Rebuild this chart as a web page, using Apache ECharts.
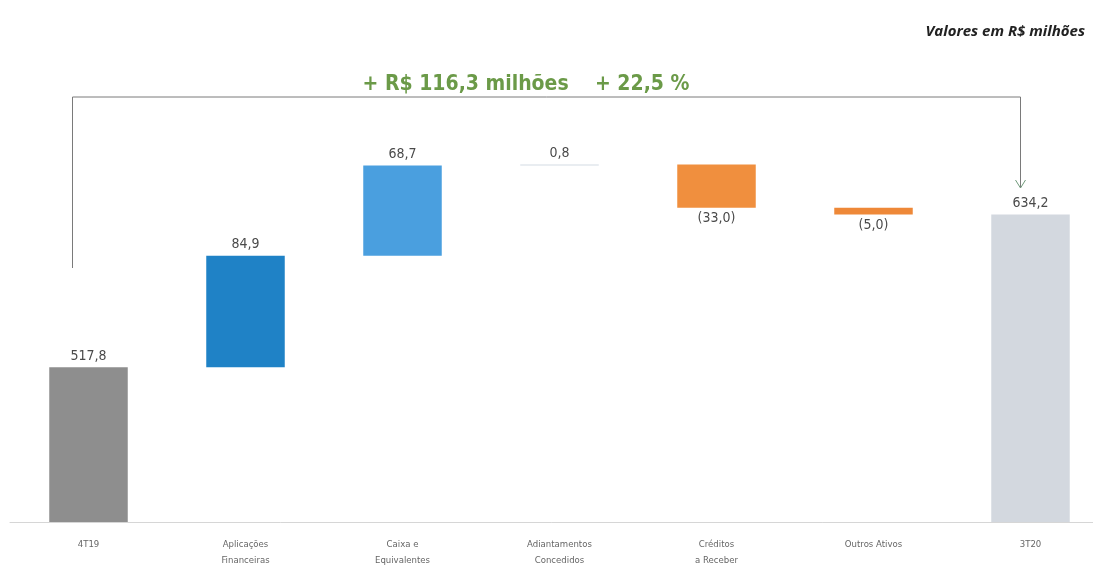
<!DOCTYPE html>
<html>
<head>
<meta charset="utf-8">
<script src="https://cdn.jsdelivr.net/npm/echarts@6/dist/echarts.min.js"></script>
<style>
    html, body { margin: 0; padding: 0; background: #fff; }
    #chart { width: 1093px; height: 566px; }
</style>
</head>
<body>
<div id="chart"></div>
<script>
// categorias e variações (R$ milhões)
const categories = ['4T19', 'Aplicações\nFinanceiras', 'Caixa e\nEquivalentes', 'Adiantamentos\nConcedidos', 'Créditos\na Receber', 'Outros Ativos', '3T20'];
const changes = [517.8, 84.9, 68.7, 0.8, -33.0, -5.0, 634.2];
const isTotal = [true, false, false, false, false, false, true];
const barColors = ['#8e8e8e', '#1f82c6', '#4a9fdf', '#d3dbe4', '#f08f3e', '#ee8838', '#d3d8df'];
const headline = '+ R$ 116,3 milhões    + 22,5 %';

// monta base invisível + altura visível
function buildWaterfall() {
    const base = [];
    const height = [];
    let running = 0;
    changes.forEach((v, i) => {
        if (isTotal[i]) {
            base.push(0);
            height.push(v);
            running = v;
        } else if (v >= 0) {
            base.push(running);
            height.push(v);
            running += v;
        } else {
            running += v;
            base.push(running);
            height.push(-v);
        }
    });
    return { base, height };
}

function formatLabel(v) {
    const s = Math.abs(v).toFixed(1).replace('.', ',');
    return v < 0 ? '(' + s + ')' : s;
}

const wf = buildWaterfall();
const chart = echarts.init(document.getElementById('chart'));

const option = {
    animation: false,
    backgroundColor: '#fff',
    textStyle: { fontFamily: "'DejaVu Sans Condensed', 'Open Sans', sans-serif" },
    title: {
        text: 'Valores em R$ milhões',
        right: 3,
        top: 19,
        textStyle: {
            fontFamily: "'Open Sans', sans-serif",
            fontStyle: 'italic',
            fontWeight: 'bold',
            fontSize: 15,
            color: '#222'
        }
    },
    // o eixo passa um pouco da borda direita, como no original
    grid: { left: 10, right: -16, top: 128, bottom: 44, outerBoundsMode: 'none' },
    xAxis: {
        type: 'category',
        data: categories,
        axisTick: { show: false },
        axisLine: { lineStyle: { color: '#d6d6d6', width: 1 } },
        axisLabel: {
            color: '#666',
            fontSize: 9.5,
            lineHeight: 16,
            margin: 15,
            interval: 0
        }
    },
    yAxis: {
        type: 'value',
        min: 400,
        max: 700,
        show: false,
        splitLine: { show: false }
    },
    series: [
        {
            type: 'bar',
            stack: 'wf',
            barWidth: '50%',
            itemStyle: { color: 'transparent' },
            emphasis: { disabled: true },
            data: wf.base
        },
        {
            type: 'bar',
            stack: 'wf',
            barWidth: '50%',
            data: wf.height.map((h, i) => ({
                value: h,
                itemStyle: { color: barColors[i] },
                label: {
                    show: true,
                    position: changes[i] < 0 ? 'bottom' : 'top',
                    distance: 4,
                    formatter: formatLabel(changes[i]),
                    color: '#4a4a4a',
                    fontSize: 14
                }
            }))
        }
    ]
};

chart.setOption(option);

// colchete de variação entre 4T19 e 3T20
const leftX = chart.convertToPixel({ gridIndex: 0 }, [0, 0])[0] - 16;
const rightX = chart.convertToPixel({ gridIndex: 0 }, [6, 0])[0] - 10;
const topY = 97;
const rightEndY = 188;
const leftEndY = 268;
const lineColor = '#7a7a7a';

chart.setOption({
    graphic: [
        {
            type: 'polyline',
            shape: { points: [[leftX, leftEndY], [leftX, topY], [rightX, topY], [rightX, rightEndY]] },
            style: { stroke: lineColor, lineWidth: 1, fill: null }
        },
        {
            type: 'polyline',
            shape: { points: [[rightX - 5, rightEndY - 8], [rightX, rightEndY], [rightX + 5, rightEndY - 8]] },
            style: { stroke: '#6f9a7a', lineWidth: 1, fill: null }
        },
        {
            type: 'text',
            x: 526,
            y: 85,
            style: {
                text: headline,
                fill: '#6b9a48',
                font: "bold 21px 'DejaVu Sans Condensed', 'Open Sans', sans-serif",
                align: 'center',
                verticalAlign: 'middle'
            }
        }
    ]
});

window.addEventListener('resize', () => {
    chart && chart.resize();
});
</script>
</body>
</html>
